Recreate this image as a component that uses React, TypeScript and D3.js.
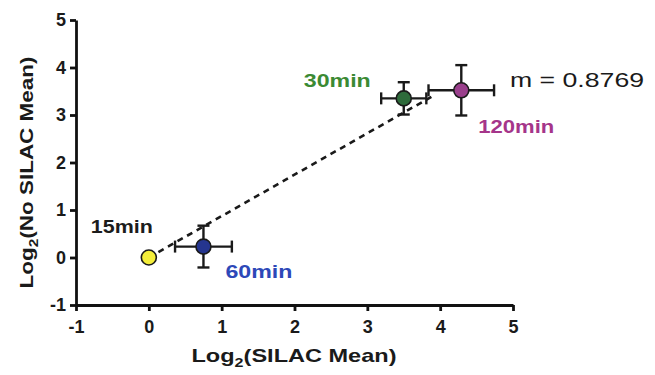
import { useRef, useEffect } from "react";
import * as d3 from "d3";

const labels = ["15min", "60min", "30min", "120min"];
const xMeans = [0, 0.75, 3.5, 4.29];
const yMeans = [0, 0.23, 3.35, 3.52];
const xErrs = [0, 0.39, 0.31, 0.45];
const yErrs = [0, 0.44, 0.34, 0.53];
const fills = ["#f4ee3a", "#25358f", "#2e6b3b", "#9a3f8c"];
const labelColors = ["#1c1c1c", "#2d48b8", "#3b8a33", "#a5358a"];
const ticks = [-1, 0, 1, 2, 3, 4, 5];
const slope = 0.8769;

const width = 655;
const height = 375;

const x = d3.scaleLinear().domain([-1, 5]).range([76, 513]);
const y = d3.scaleLinear().domain([-1, 5]).range([305, 20]);

// label placement relative to its point (px offsets), and rendered width
const labelPos = [
  { dx: -58, dy: -25, w: 62 },
  { dx: 22, dy: 31, w: 67 },
  { dx: -100, dy: -11, w: 67 },
  { dx: 17, dy: 43, w: 76 },
];

const Chart = () => {
  const xAxisRef = useRef<SVGGElement>(null);
  const yAxisRef = useRef<SVGGElement>(null);

  useEffect(() => {
    const style = (g: any) => {
      g.select(".domain").attr("stroke", "#111").attr("stroke-width", 2.8);
      g.selectAll(".tick line").attr("stroke", "#111").attr("stroke-width", 2.8);
      g.selectAll(".tick text")
        .attr("fill", "#1a1a1a")
        .attr("font-size", 18)
        .attr("font-weight", "bold")
        .attr("font-family", "Arial, Liberation Sans, sans-serif");
    };
    const fmt = (d: any) => String(d);
    d3.select(xAxisRef.current)
      .call(d3.axisBottom(x).tickValues(ticks).tickSize(6).tickSizeOuter(0).tickPadding(9).tickFormat(fmt))
      .call(style);
    d3.select(yAxisRef.current)
      .call(d3.axisLeft(y).tickValues(ticks).tickSize(6).tickSizeOuter(0).tickPadding(4).tickFormat(fmt))
      .call(style);
  }, []);

  const font = "Arial, Liberation Sans, sans-serif";

  return (
    <svg width={width} height={height} style={{ position: "absolute", left: 0, top: 0, background: "#fff" }}>
      <g ref={xAxisRef} transform={`translate(0,${y(-1)})`} />
      <g ref={yAxisRef} transform={`translate(${x(-1)},0)`} />

      {/* regression line */}
      <line
        x1={x(0)}
        y1={y(0)}
        x2={x(3.9)}
        y2={y(slope * 3.9 - 0.02)}
        stroke="#1a1a1a"
        strokeWidth={2.6}
        strokeDasharray="6,5"
      />

      {xMeans.map((xm, i) => (
        <g key={labels[i]}>
          {xErrs[i] > 0 && (
            <g stroke="#1a1a1a" strokeWidth={2.4}>
              <line x1={x(xm - xErrs[i])} x2={x(xm + xErrs[i])} y1={y(yMeans[i])} y2={y(yMeans[i])} />
              <line x1={x(xm - xErrs[i])} x2={x(xm - xErrs[i])} y1={y(yMeans[i]) - 6} y2={y(yMeans[i]) + 6} />
              <line x1={x(xm + xErrs[i])} x2={x(xm + xErrs[i])} y1={y(yMeans[i]) - 6} y2={y(yMeans[i]) + 6} />
              <line x1={x(xm)} x2={x(xm)} y1={y(yMeans[i] - yErrs[i])} y2={y(yMeans[i] + yErrs[i])} />
              <line x1={x(xm) - 6} x2={x(xm) + 6} y1={y(yMeans[i] - yErrs[i])} y2={y(yMeans[i] - yErrs[i])} />
              <line x1={x(xm) - 6} x2={x(xm) + 6} y1={y(yMeans[i] + yErrs[i])} y2={y(yMeans[i] + yErrs[i])} />
            </g>
          )}
          <circle cx={x(xm)} cy={y(yMeans[i])} r={7.5} fill={fills[i]} stroke="#1a1a1a" strokeWidth={1.6} />
          <text
            x={x(xm) + labelPos[i].dx}
            y={y(yMeans[i]) + labelPos[i].dy}
            fill={labelColors[i]}
            fontSize={19}
            fontWeight="bold"
            fontFamily={font}
            textLength={labelPos[i].w}
            lengthAdjust="spacingAndGlyphs"
          >
            {labels[i]}
          </text>
        </g>
      ))}

      <text x={510} y={87} fontSize={21} fontFamily={font} fill="#1a1a1a" textLength={134} lengthAdjust="spacingAndGlyphs">
        {`m = ${slope}`}
      </text>

      {/* axis titles */}
      <text
        x={294}
        y={362}
        textAnchor="middle"
        fontSize={19}
        fontWeight="bold"
        fontFamily={font}
        fill="#1a1a1a"
        textLength={205}
        lengthAdjust="spacingAndGlyphs"
      >
        Log<tspan fontSize={13} dy={5}>2</tspan>
        <tspan dy={-5}>(SILAC Mean)</tspan>
      </text>
      <text
        transform={`translate(33,${(y(-1) + y(5)) / 2 + 10}) rotate(-90)`}
        textAnchor="middle"
        fontSize={19}
        fontWeight="bold"
        fontFamily={font}
        fill="#1a1a1a"
        textLength={232}
        lengthAdjust="spacingAndGlyphs"
      >
        Log<tspan fontSize={13} dy={5}>2</tspan>
        <tspan dy={-5}>(No SILAC Mean)</tspan>
      </text>
    </svg>
  );
};

export default function App() {
  return <Chart />;
}
